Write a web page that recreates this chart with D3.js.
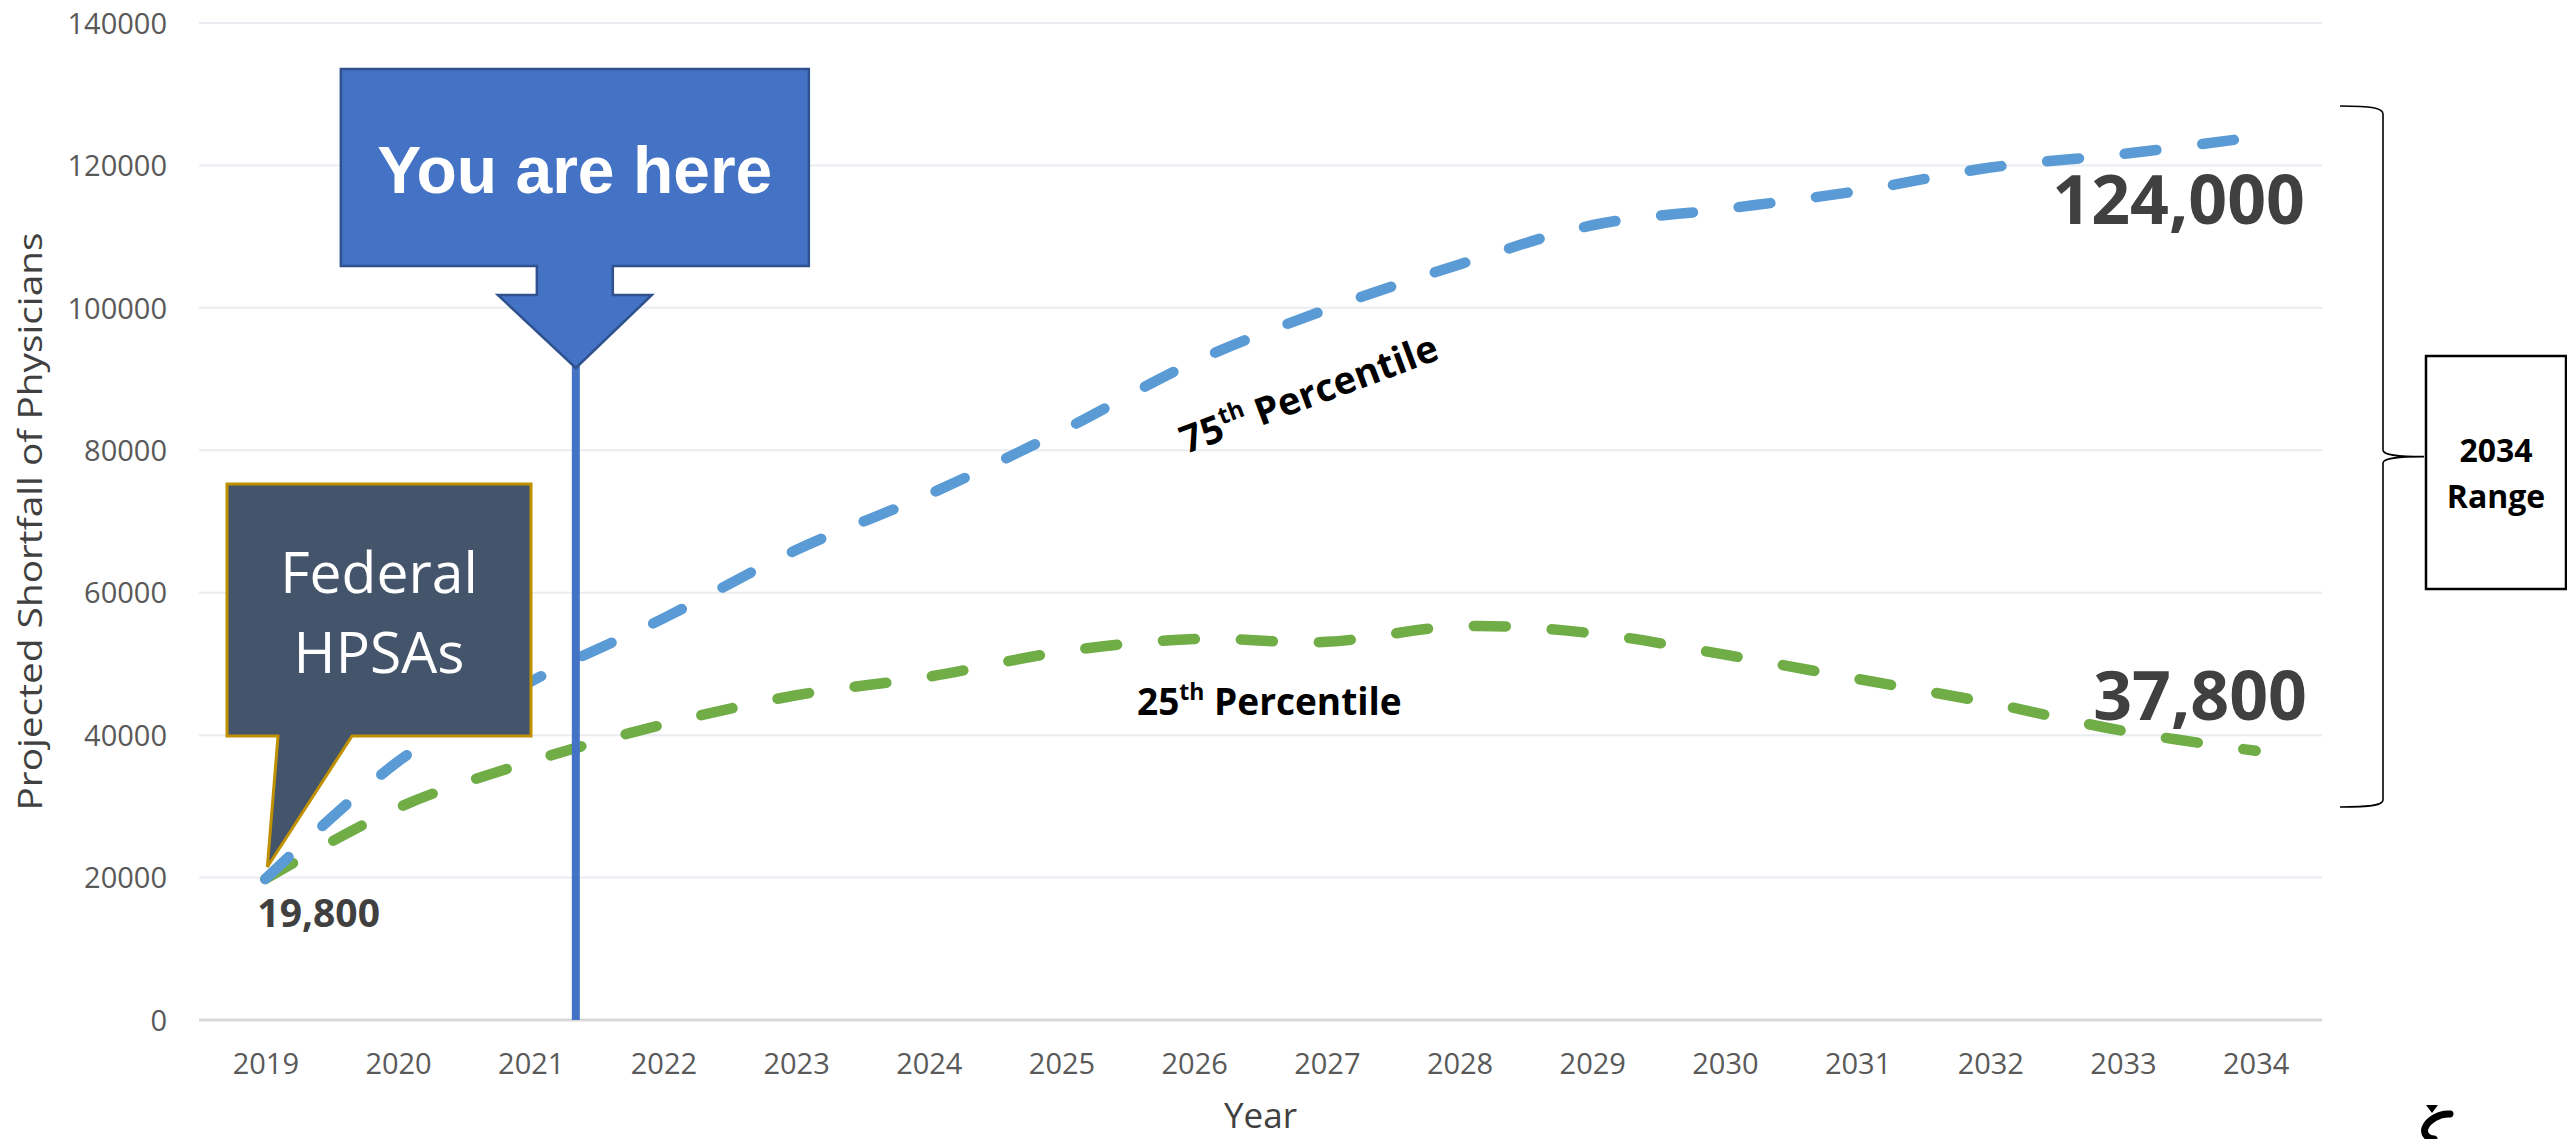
<!DOCTYPE html>
<html>
<head>
<meta charset="utf-8">
<script src="https://cdn.jsdelivr.net/npm/d3@7"></script>
<style>
  html, body { margin: 0; padding: 0; background: #ffffff; }
  svg { display: block; }
</style>
</head>
<body>
<div id="chart"></div>
<script>
// ---------------- DATA ----------------
const years = ["2019","2020","2021","2022","2023","2024","2025","2026","2027","2028","2029","2030","2031","2032","2033","2034"];
const p75 = [19800, 36300, 47500, 56400, 66000, 73800, 82700, 92400, 99800, 106100, 111600, 113900, 116400, 119700, 121600, 124000];
const p25 = [19800, 29800, 36300, 41500, 45600, 48200, 51700, 53500, 53100, 55300, 54300, 51300, 47900, 44500, 40600, 37800];
const yTicks = [0, 20000, 40000, 60000, 80000, 100000, 120000, 140000];
const youAreHereYear = 2021.34;
const startLabel = "19,800";
const endLabel75 = "124,000";
const endLabel25 = "37,800";

// ---------------- LAYOUT ----------------
const W = 2567, H = 1139;
const plot = { left: 199, right: 2322, top: 23, bottom: 1020 };
const sans = "'Open Sans', 'Noto Sans', sans-serif";
const arial = "'Liberation Sans', Arial, sans-serif";

const svg = d3.select("#chart").append("svg")
  .attr("width", W).attr("height", H)
  .attr("viewBox", `0 0 ${W} ${H}`);

const x = d3.scalePoint().domain(years).range([plot.left, plot.right]).padding(0.5);
const xLin = d3.scaleLinear()
  .domain([+years[0], +years[years.length - 1]])
  .range([x(years[0]), x(years[years.length - 1])]);
const y = d3.scaleLinear().domain([0, 140000]).range([plot.bottom, plot.top]);

// gridlines
svg.append("g").selectAll("line").data(yTicks.filter(d => d > 0)).join("line")
  .attr("x1", plot.left).attr("x2", plot.right)
  .attr("y1", d => y(d)).attr("y2", d => y(d))
  .attr("stroke", "#E9ECF1").attr("stroke-width", 2);

// x axis line
svg.append("line")
  .attr("x1", plot.left).attr("x2", plot.right)
  .attr("y1", y(0)).attr("y2", y(0))
  .attr("stroke", "#D9D9D9").attr("stroke-width", 3);

// y tick labels
const yAxis = d3.axisLeft(y).tickValues(yTicks).tickSize(0).tickPadding(0).tickFormat(d3.format("d"));
const gy = svg.append("g").attr("transform", "translate(167,0)").call(yAxis);
gy.select(".domain").remove();
gy.selectAll("text")
  .attr("font-family", sans).attr("font-size", 29).attr("fill", "#595959")
  .attr("x", 0).attr("dy", "0.35em");

// x tick labels
const xAxis = d3.axisBottom(x).tickSize(0).tickPadding(0);
const gx = svg.append("g").attr("transform", `translate(0,${y(0)})`).call(xAxis);
gx.select(".domain").remove();
gx.selectAll("text")
  .attr("font-family", sans).attr("font-size", 29).attr("fill", "#595959")
  .attr("y", 54).attr("dy", 0);

// axis titles
svg.append("text")
  .attr("transform", `translate(42,${(plot.top + plot.bottom) / 2}) rotate(-90)`)
  .attr("text-anchor", "middle")
  .attr("font-family", sans).attr("font-size", 32).attr("fill", "#404040")
  .attr("textLength", 578).attr("lengthAdjust", "spacingAndGlyphs")
  .text("Projected Shortfall of Physicians");

svg.append("text")
  .attr("x", (plot.left + plot.right) / 2).attr("y", 1128)
  .attr("text-anchor", "middle")
  .attr("font-family", sans).attr("font-size", 35).attr("fill", "#404040")
  .text("Year");

// lines
const line = d3.line()
  .x((d, i) => x(years[i]))
  .y(d => y(d))
  .curve(d3.curveCardinal.tension(0));

svg.append("path").datum(p25)
  .attr("d", line).attr("fill", "none")
  .attr("stroke", "#70AD47").attr("stroke-width", 10.5)
  .attr("stroke-linecap", "round")
  .attr("stroke-dasharray", "32,46");

svg.append("path").datum(p75)
  .attr("d", line).attr("fill", "none")
  .attr("stroke", "#5B9BD5").attr("stroke-width", 10.5)
  .attr("stroke-linecap", "round")
  .attr("stroke-dasharray", "32,46");

// series labels
function seriesLabel(tx, ty, rot, num, fs) {
  const t = svg.append("text")
    .attr("transform", `translate(${tx},${ty}) rotate(${rot})`)
    .attr("font-family", sans).attr("font-weight", 700).attr("font-size", fs).attr("fill", "#000000");
  t.append("tspan").text(num);
  t.append("tspan").attr("font-size", Math.round(fs * 0.62)).attr("dy", -15).text("th");
  t.append("tspan").attr("dy", 15).text(" Percentile");
}
seriesLabel(1186, 454, -20.5, "75", 38);
seriesLabel(1137, 715, 0, "25", 37);

// value labels
svg.append("text")
  .attr("x", x("2019") - 8).attr("y", 927)
  .attr("font-family", sans).attr("font-weight", 700).attr("font-size", 39).attr("fill", "#404040")
  .text(startLabel);
svg.append("text")
  .attr("x", 2305).attr("y", 224)
  .attr("text-anchor", "end")
  .attr("font-family", sans).attr("font-weight", 700).attr("font-size", 68).attr("fill", "#404040")
  .text(endLabel75);
svg.append("text")
  .attr("x", 2307).attr("y", 720)
  .attr("text-anchor", "end")
  .attr("font-family", sans).attr("font-weight", 700).attr("font-size", 68).attr("fill", "#404040")
  .text(endLabel25);

// "You are here" marker
const cx = xLin(youAreHereYear);
svg.append("line")
  .attr("x1", cx).attr("x2", cx)
  .attr("y1", 366).attr("y2", y(0))
  .attr("stroke", "#4472C4").attr("stroke-width", 8);

const boxL = cx - 235, boxR = cx + 233, boxT = 69, boxB = 266;
const stemL = cx - 39, stemR = cx + 37, stemB = 295;
const headL = cx - 78, headR = cx + 76, tipY = 368;
svg.append("path")
  .attr("d", `M${boxL},${boxT} L${boxR},${boxT} L${boxR},${boxB} L${stemR},${boxB} L${stemR},${stemB} L${headR},${stemB} L${cx},${tipY} L${headL},${stemB} L${stemL},${stemB} L${stemL},${boxB} L${boxL},${boxB} Z`)
  .attr("fill", "#4472C4").attr("stroke", "#2F528F").attr("stroke-width", 2.5)
  .attr("stroke-linejoin", "miter");
svg.append("text")
  .attr("x", (boxL + boxR) / 2).attr("y", 193)
  .attr("text-anchor", "middle")
  .attr("font-family", arial).attr("font-weight", 700).attr("font-size", 66).attr("fill", "#ffffff")
  .text("You are here");

// "Federal HPSAs" callout
const px = x("2019") + 2, py = y(p25[0]) - 12;
svg.append("path")
  .attr("d", `M227,484 L531,484 L531,736 L352,736 L${px},${py} L278,736 L227,736 Z`)
  .attr("fill", "#44546A").attr("stroke", "#BF9000").attr("stroke-width", 3)
  .attr("stroke-linejoin", "miter");
const fed = svg.append("text")
  .attr("text-anchor", "middle")
  .attr("font-family", sans).attr("font-size", 57).attr("fill", "#ffffff");
fed.append("tspan").attr("x", 379).attr("y", 593).text("Federal");
fed.append("tspan").attr("x", 379).attr("y", 673).text("HPSAs");

// brace
svg.append("path")
  .attr("d", "M2340,106 C2372,106 2383,108 2383,114 L2383,450 C2383,455 2396,456.6 2424,456.6 C2396,456.6 2383,458 2383,463 L2383,800 C2383,805 2372,807 2340,807")
  .attr("fill", "none").attr("stroke", "#000000").attr("stroke-width", 1.6);

// range box
svg.append("rect")
  .attr("x", 2426).attr("y", 356).attr("width", 140).attr("height", 233)
  .attr("fill", "#ffffff").attr("stroke", "#000000").attr("stroke-width", 2.5);
const rng = svg.append("text")
  .attr("text-anchor", "middle")
  .attr("font-family", sans).attr("font-weight", 700).attr("font-size", 32).attr("fill", "#000000");
rng.append("tspan").attr("x", 2496).attr("y", 462).text("2034");
rng.append("tspan").attr("x", 2496).attr("y", 508).text("Range");

// small logo mark
svg.append("path")
  .attr("d", "M2426,1105 L2438,1105 L2432,1113 Z")
  .attr("fill", "#000000");
svg.append("path")
  .attr("d", "M2450,1114 C2440,1113 2428,1120 2425,1128 C2423,1134 2428,1139 2434,1139")
  .attr("fill", "none").attr("stroke", "#000000").attr("stroke-width", 7)
  .attr("stroke-linecap", "round");
</script>
</body>
</html>
